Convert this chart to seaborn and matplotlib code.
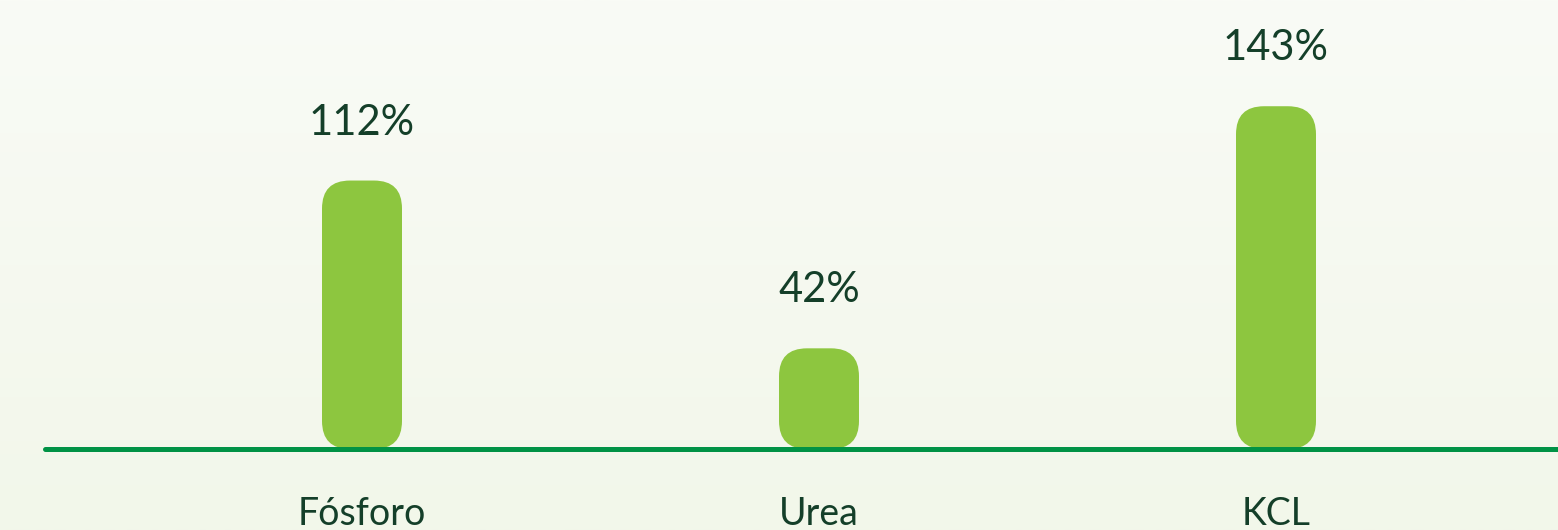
import numpy as np
import pandas as pd
import matplotlib
matplotlib.use("Agg")
import matplotlib.pyplot as plt
import seaborn as sns
from matplotlib.patches import FancyBboxPatch

categories = ["Fósforo", "Urea", "KCL"]
values = [112, 42, 143]
value_labels = ["112%", "42%", "143%"]

sns.set_theme(style="white")
plt.rcParams["font.family"] = ["Lato", "DejaVu Sans"]

W, H, DPI = 1558, 530, 100
fig = plt.figure(figsize=(W / DPI, H / DPI), dpi=DPI)

# background gradient
bg = fig.add_axes([0, 0, 1, 1], zorder=-10)
grad = np.linspace(0, 1, 256).reshape(-1, 1)
top = np.array([0xf9, 0xfb, 0xf6]) / 255
bot = np.array([0xf2, 0xf7, 0xea]) / 255
img = top[None, None, :] * (1 - grad[..., None]) + bot[None, None, :] * grad[..., None]
bg.imshow(img, aspect="auto", extent=[0, 1, 0, 1], origin="upper", interpolation="bilinear")
bg.axis("off")

base_px = 449
ax = fig.add_axes([0, (H - base_px) / H, 1, base_px / H])
ax.patch.set_alpha(0)

px_per_x = 457.0
px_per_y = 2.397
x0 = -362 / px_per_x

df = pd.DataFrame({"cat": categories, "val": values})
bar_w = 80 / px_per_x
sns.barplot(data=df, x="cat", y="val", ax=ax, width=bar_w, color="#8dc63f",
            saturation=1)
ax.set_xlim(x0, x0 + W / px_per_x)
ax.set_ylim(0, base_px / px_per_y)

radius_px = 28
aspect = px_per_x / px_per_y
patches = list(ax.patches)
for p in patches:
    x, y = p.get_x(), p.get_y()
    w, h = p.get_width(), p.get_height()
    p.remove()
    fb = FancyBboxPatch((x, y), w, h,
                        boxstyle=f"round,pad=0,rounding_size={radius_px / px_per_x}",
                        mutation_aspect=aspect, facecolor="#8dc63f",
                        edgecolor="none", clip_on=False, zorder=2)
    ax.add_patch(fb)

txt_color = "#143f29"
for i, (v, lab) in enumerate(zip(values, value_labels)):
    ax.annotate(lab, (i, v), xytext=(0, 46 * 72 / DPI), textcoords="offset points",
                ha="center", va="baseline", fontsize=30, color=txt_color)
    ax.text(i, -(525 - base_px) / px_per_y, categories[i], ha="center",
            va="baseline", fontsize=27, color=txt_color, clip_on=False)

for s in ["top", "left", "right"]:
    ax.spines[s].set_visible(False)
sp = ax.spines["bottom"]
sp.set_color("#009245")
sp.set_linewidth(5 * 72 / DPI)
sp.set_capstyle("round")
sp.set_zorder(3)
sp.set_bounds(x0 + 45 / px_per_x, x0 + (W + 10) / px_per_x)
ax.set_xticks([])
ax.set_yticks([])
ax.set_xlabel("")
ax.set_ylabel("")

fig.savefig("out.png", dpi=DPI)
